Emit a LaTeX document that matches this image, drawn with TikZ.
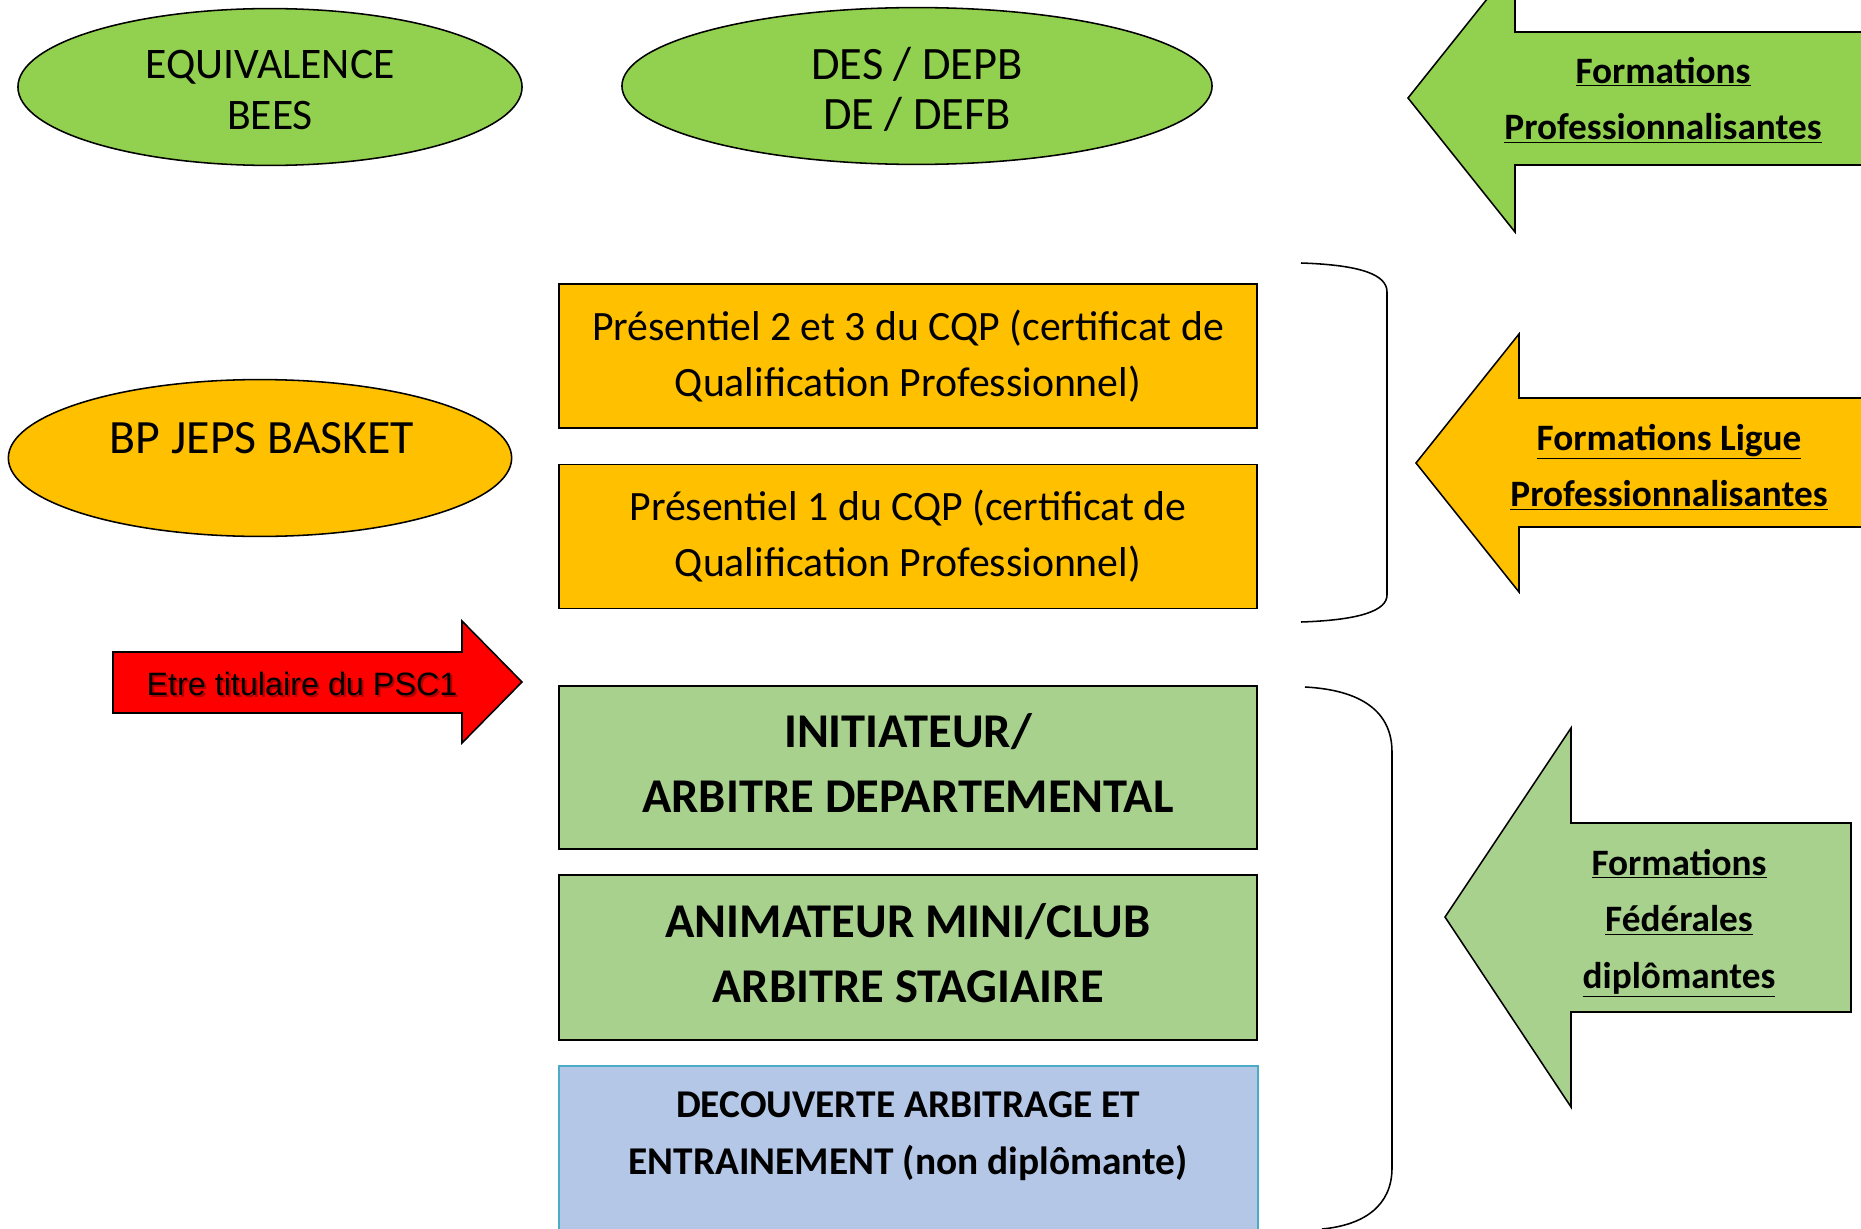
\documentclass[tikz,border=0pt]{standalone}
\usepackage{fontspec}
\setmainfont{Carlito}
\newfontfamily\arialf{Liberation Sans}
\usetikzlibrary{shapes.geometric}
\definecolor{gA}{HTML}{92D050}
\definecolor{orA}{HTML}{FFC000}
\definecolor{gB}{HTML}{A9D18E}
\definecolor{blA}{HTML}{B4C7E7}
\definecolor{blB}{HTML}{4BACC6}
\definecolor{redA}{HTML}{FF0000}
\tikzset{
  outl/.style={draw=black, line width=1.1pt},
  ell/.style={ellipse, outl, inner sep=0pt, minimum height=3.92cm},
  ellt/.style={font=\fontsize{31}{35.6}\selectfont, align=center, inner sep=0pt},
  cqp/.style={rectangle, outl, fill=orA, minimum width=17.45cm, minimum height=3.61cm,
    align=center, font=\fontsize{29.7}{40}\selectfont},
  grbox/.style={rectangle, outl, fill=gB, minimum width=17.45cm, minimum height=4.1cm},
  grtxt/.style={align=center, inner sep=0pt, font=\bfseries\fontsize{34.5}{46}\selectfont},
  arrt/.style={align=center, font=\bfseries\fontsize{26.5}{40}\selectfont, inner sep=0pt},
  brk/.style={draw=black, line width=1.1pt},
  psctxt/.style={font=\arialf\fontsize{23}{26}\selectfont, inner sep=0pt},
}
\begin{document}
\begin{tikzpicture}[x=0.025cm, y=-0.025cm]
\useasboundingbox (0,0) rectangle (1861,1229);
\clip (0,0) rectangle (1861,1229);

% ellipses
\node[ell, fill=gA, minimum width=12.6cm] (equ) at (270,87) {};
\node[ellt] (equt) at (270,90) {EQUIVALENCE\\BEES};
\node[ell, fill=gA, minimum width=14.75cm] (des) at (917,86) {};
\node[ellt, font=\fontsize{33}{35.6}\selectfont] (dest) at (917,89) {DES / DEPB\\DE / DEFB};
\node[ell, fill=orA, minimum width=12.58cm] (bp) at (260,458) {};
\node[ellt, font=\fontsize{34}{36}\selectfont] (bpt) at (262,438) {BP JEPS BASKET};

% orange CQP boxes
\node[cqp] (p23) at (908,356) {Présentiel 2 et 3 du CQP (certificat de\\Qualification Professionnel)};
\node[cqp] (p1) at (908,536.5) {Présentiel 1 du CQP (certificat de\\Qualification Professionnel)};

% green boxes
\node[grbox, minimum height=4.07cm] (init) at (908,767.5) {};
\node[grtxt] (initt) at (908,763) {INITIATEUR/\\ARBITRE DEPARTEMENTAL};
\node[grbox, minimum height=4.12cm] (anim) at (908,957.5) {};
\node[grtxt] (animt) at (908,953) {ANIMATEUR MINI/CLUB\\ARBITRE STAGIAIRE};

% blue box
\draw[draw=blB, line width=1.1pt, fill=blA] (559,1066) rectangle (1258,1260);
\node[align=center, font=\bfseries\fontsize{28}{40.5}\selectfont, inner sep=0pt] (dec) at (908,1136)
  {DECOUVERTE ARBITRAGE ET\\ENTRAINEMENT (non diplômante)};

% red arrow
\draw[outl, fill=redA] (113,652) -- (462,652) -- (462,621) -- (522,682) -- (462,743) -- (462,713) -- (113,713) -- cycle;
\node[psctxt, text=black, opacity=0.3] (psct) at (304,686) {Etre titulaire du PSC1};
\node[psctxt] (psc) at (302,684) {Etre titulaire du PSC1};

% big arrows
\draw[outl, fill=gA] (1408,98) -- (1515,-36) -- (1515,32) -- (1880,32) -- (1880,165) -- (1515,165) -- (1515,232) -- cycle;
\node[arrt] (fp) at (1663,100) {\underline{Formations}\\\underline{Professionnalisantes}};

\draw[outl, fill=orA] (1416,463) -- (1519,334) -- (1519,398) -- (1880,398) -- (1880,527) -- (1519,527) -- (1519,592) -- cycle;
\node[arrt] (flp) at (1669,467) {\underline{Formations Ligue}\\\underline{Professionnalisantes}};

\draw[outl, fill=gB] (1445,917) -- (1571,728) -- (1571,823) -- (1851,823) -- (1851,1012) -- (1571,1012) -- (1571,1107) -- cycle;
\node[arrt] (ffd) at (1679,923) {\underline{Formations}\\\underline{Fédérales}\\\underline{diplômantes}};

% brackets
\draw[brk] (1301,263) .. controls (1362,265) and (1387,275) .. (1387,292) -- (1387,595) .. controls (1387,610) and (1362,620) .. (1301,622);
\draw[brk] (1305,687) .. controls (1362,690) and (1392,712) .. (1392,752) -- (1392,1168) .. controls (1392,1205) and (1365,1225) .. (1322,1229);
\end{tikzpicture}
\end{document}
